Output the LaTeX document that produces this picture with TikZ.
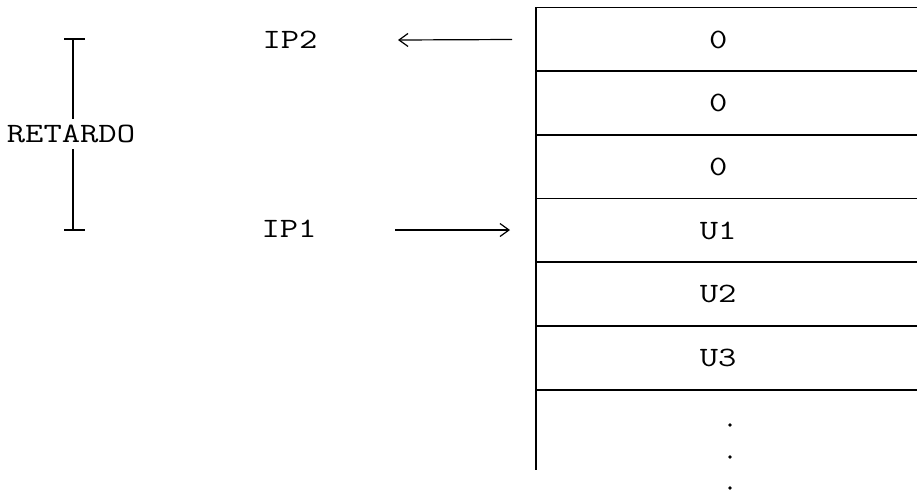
\documentclass[tikz,border=0pt]{standalone}
\usetikzlibrary{arrows.meta}
\newcommand{\tw}[1]{\scalebox{1.27}[1]{#1}}
\begin{document}
\begin{tikzpicture}[x=1pt,y=-1pt,
  txt/.style={font=\ttfamily\fontsize{28}{31}\selectfont, inner sep=0pt},
  cell/.style={txt, minimum width=364pt, minimum height=63.7pt, anchor=west},
  grid/.style={line width=1.3pt},
  ptr/.style={line width=1.2pt, -{Straight Barb[length=9pt,width=13pt,line width=1.2pt]}}]
\useasboundingbox (0,0) rectangle (917,491);

% memory cells
\node[cell] (c1) at (536,39.5) {\tw{0}};
\node[cell] (c2) at (536,103) {\tw{0}};
\node[cell] (c3) at (536,167) {\tw{0}};
\node[cell] (c4) at (536,230.5) {\tw{U1}};
\node[cell] (c5) at (536,294) {\tw{U2}};
\node[cell] (c6) at (536,358) {\tw{U3}};
\coordinate (tail) at (536,470);

% cell borders (open to the right)
\foreach \c in {c1,c2,c3,c4,c5,c6}
  \draw[grid] (\c.north west) -- ++(400,0);
\draw[grid] (c6.south west) -- ++(400,0);
\draw[grid] (c1.north west) -- (tail);

% continuation dots
\fill (730,425) circle (1.8pt);
\fill (730,457) circle (1.8pt);
\fill (730,488) circle (1.8pt);

% pointers
\node[txt] (ip2) at (290,40) {\tw{IP2}};
\node[txt] (ip1) at (289,229) {\tw{IP1}};
\coordinate (ip2tip) at (398,40);
\coordinate (ip1tail) at (395,230);
\draw[ptr] (c1.west -| 512,0) -- (ip2tip);
\draw[ptr] (ip1tail) -- (ip1tail -| 510,0);

% delay bracket
\node[txt, inner ysep=6pt] (ret) at (71,134) {\tw{RETARDO}};
\coordinate (rtop) at (73,39);
\coordinate (rbot) at (73,230);
\draw[line width=1.1pt] (rtop) -- (rtop |- ret.north);
\draw[line width=1.1pt] (rbot) -- (rbot |- ret.south);
\draw[line width=1.1pt] ([xshift=-9pt]rtop) -- ([xshift=12pt]rtop);
\draw[line width=1.1pt] ([xshift=-9pt]rbot) -- ([xshift=12pt]rbot);
\end{tikzpicture}
\end{document}
